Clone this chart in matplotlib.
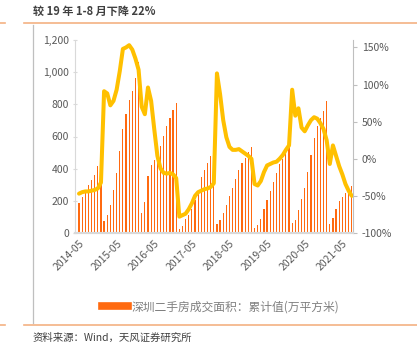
import numpy as np
import matplotlib.pyplot as plt
from matplotlib.lines import Line2D

plt.rcParams['font.family'] = ['Noto Sans CJK SC', 'DejaVu Sans']

# monthly labels 2014-05 .. 2021-08
years = list(range(2014, 2022))
months = [f"{y}-{m:02d}" for y in years for m in range(1, 13)]
months = months[months.index("2014-05"):months.index("2021-08") + 1]

# cumulative transaction area (10k sqm), resets each January
area_cum = [
    187, 225, 255, 297, 328, 359, 414, 455,                          # 2014 May-Dec
    74, 115, 177, 266, 375, 509, 645, 740, 829, 884, 963, 1064,      # 2015
    126, 190, 352, 420, 456, 497, 544, 604, 666, 717, 767, 806,      # 2016
    27, 43, 85, 115, 150, 208, 270, 348, 394, 435, 476, 520,         # 2017
    56, 80, 126, 173, 231, 280, 334, 394, 435, 466, 503, 534,        # 2018
    33, 49, 85, 148, 204, 260, 317, 373, 431, 462, 510, 555,         # 2019
    60, 78, 146, 212, 280, 377, 487, 589, 666, 713, 759, 820,        # 2020
    54, 93, 149, 198, 225, 249, 270, 292,                            # 2021 Jan-Aug
]

# year-on-year change (%)
yoy = [
    -47, -45, -44, -44, -43, -42, -40, -32,
    91, 88, 72, 78, 93, 118, 148, 150, 153, 147, 135, 120,
    70, 60, 96, 78, 40, 4, -13, -19, -20, -19, -21, -26,
    -78, -76, -74, -68, -60, -50, -45, -43, -41, -40, -38, -33,
    115, 87, 52, 29, 16, 12, 12, 13, 10, 7, 4, 0,
    -34, -36, -30, -18, -9, -7, -5, -4, 0, 5, 12, 18,
    93, 58, 68, 42, 37, 45, 52, 56, 54, 48, 40, 25,
    -7, 18, 4, -10, -21, -34, -43, -50,
]

title = "较 19 年 1-8 月下降 22%"
legend_label = "深圳二手房成交面积：累计值(万平方米)"
source = "资料来源：Wind，天风证券研究所"

W, H = 417, 345
fig = plt.figure(figsize=(W / 100, H / 100), dpi=100)
fig.patch.set_facecolor('white')

ax = fig.add_axes([75 / W, 1 - 233 / H, (353.3 - 75) / W, (233 - 40) / H])
ax2 = ax.twinx()

x = np.arange(len(months))
ax.bar(x, area_cum, width=0.38, color='#FF6A10', zorder=2)
ax2.plot(x, np.array(yoy) / 100, color='#FFC000', linewidth=2.9,
         solid_joinstyle='round', solid_capstyle='round', zorder=3)

ax.set_xlim(-1.28, 87.5)
ax.set_ylim(0, 1200)
ax2.set_ylim(-1.0, 1.6)

grey = '#595959'
ax.set_yticks(range(0, 1201, 200))
ax.set_yticklabels([f"{v:,}" for v in range(0, 1201, 200)], fontsize=7.5, color=grey)
ax2.set_yticks(np.arange(-1.0, 1.51, 0.5))
ax2.set_yticklabels([f"{int(round(v * 100))}%" for v in np.arange(-1.0, 1.51, 0.5)],
                    fontsize=7.5, color=grey)

tick_idx = [i for i, m in enumerate(months) if m.endswith("-05")]
ax.set_xticks(tick_idx)
ax.set_xticklabels([months[i] for i in tick_idx], rotation=45, ha='right', va='top',
                   rotation_mode='anchor', fontsize=7.5, color=grey)

for a in (ax, ax2):
    a.spines['top'].set_visible(False)
    a.spines['left'].set_color('#D9D9D9')
    a.spines['right'].set_color('#BFBFBF')
    a.spines['bottom'].set_color('#D9D9D9')
    a.spines['bottom'].set_linewidth(1.5)
ax2.spines['left'].set_visible(False)
ax.spines['right'].set_visible(False)
ax.tick_params(axis='x', length=0, pad=4)
ax.tick_params(axis='y', length=3, direction='inout', color='#D9D9D9', pad=3)
ax2.tick_params(axis='y', length=3, direction='out', color='#BFBFBF', pad=3)

# legend
leg_handle = Line2D([], [], color='#FF6A10', linewidth=5.5)
fig.legend([leg_handle], [legend_label], loc='center', bbox_to_anchor=(221 / W, 1 - 307 / H),
           frameon=False, fontsize=8.5, labelcolor='#808080', handlelength=2.2,
           handletextpad=0.3)

# page decorations
orange = '#F4B183'
for yy in (22.5, 325):
    fig.add_artist(Line2D([24 / W, 1], [1 - yy / H] * 2, color=orange, linewidth=1.2))
    fig.add_artist(Line2D([0, 5 / W], [1 - yy / H] * 2, color=orange, linewidth=1.2))
fig.add_artist(Line2D([32.5 / W] * 2, [1 - 25 / H, 1 - 323 / H], color='#BFBFBF', linewidth=0.9))

fig.text(33 / W, 1 - 11 / H, title, fontsize=8, fontweight='bold', color='#404040',
         ha='left', va='center')
fig.text(33 / W, 1 - 338 / H, source, fontsize=7.5, color='#404040', ha='left', va='center')

fig.savefig("out.png", dpi=100)
